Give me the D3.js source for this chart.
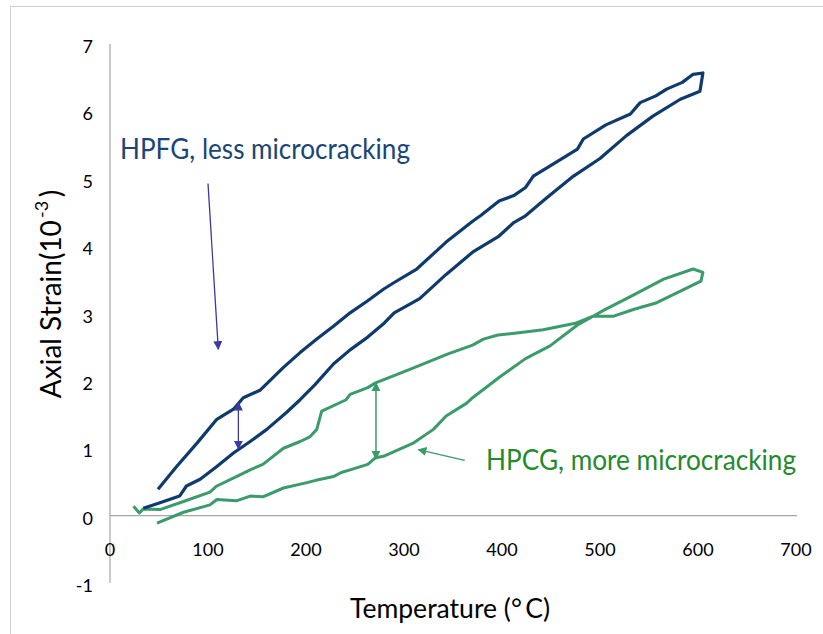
<!DOCTYPE html>
<html>
<head>
<meta charset="utf-8">
<script src="https://cdn.jsdelivr.net/npm/d3@7"></script>
<style>
  html, body { margin: 0; padding: 0; background: #fff; }
  svg { display: block; font-family: Lato, "Open Sans", sans-serif; }
</style>
</head>
<body>
<svg id="chart" width="823" height="634"></svg>
<script>
// ---- Data (Temperature °C, Axial strain 10^-3) ----
const xTicks = [0, 100, 200, 300, 400, 500, 600, 700];
const yTicks = [-1, 0, 1, 2, 3, 4, 5, 6, 7];

// HPFG loop: upper branch (left -> right)
const hpfgUpperT = [49, 68, 89, 109, 126, 136, 153, 177, 194, 211, 228, 245, 263, 279, 290, 313, 343, 370, 378, 397, 412, 424, 432, 450, 477, 483, 506, 531, 541, 557, 568, 584, 595, 605];
const hpfgUpperS = [0.39, 0.73, 1.08, 1.43, 1.58, 1.75, 1.86, 2.20, 2.42, 2.62, 2.81, 3.01, 3.19, 3.36, 3.46, 3.66, 4.06, 4.37, 4.45, 4.67, 4.75, 4.87, 5.04, 5.20, 5.44, 5.59, 5.80, 5.96, 6.13, 6.23, 6.33, 6.43, 6.55, 6.57];
// HPFG loop: lower branch (left -> right)
const hpfgLowerT = [34, 51, 71, 78, 92, 109, 126, 143, 160, 180, 194, 209, 228, 245, 263, 280, 290, 316, 343, 370, 397, 412, 424, 446, 473, 500, 527, 554, 582, 602];
const hpfgLowerS = [0.11, 0.19, 0.29, 0.44, 0.54, 0.73, 0.93, 1.10, 1.28, 1.53, 1.72, 1.94, 2.25, 2.46, 2.65, 2.86, 3.01, 3.22, 3.58, 3.91, 4.15, 4.35, 4.45, 4.72, 5.04, 5.30, 5.64, 5.93, 6.18, 6.30];

// HPCG loop: flatter branch (left -> right)
const hpcgFlatT = [24, 30, 34, 51, 75, 102, 109, 129, 143, 156, 177, 194, 204, 211, 216, 241, 245, 263, 271, 306, 345, 370, 381, 396, 415, 442, 476, 493, 514, 534, 558, 603];
const hpcgFlatS = [0.14, 0.04, 0.10, 0.09, 0.21, 0.35, 0.44, 0.58, 0.68, 0.76, 1.00, 1.10, 1.17, 1.28, 1.55, 1.72, 1.80, 1.90, 1.97, 2.17, 2.40, 2.53, 2.62, 2.68, 2.71, 2.76, 2.86, 2.96, 2.96, 3.06, 3.16, 3.48];
// HPCG loop: steeper branch (left -> right)
const hpcgSteepT = [48, 75, 102, 109, 129, 143, 156, 177, 201, 209, 228, 236, 245, 263, 271, 279, 310, 330, 343, 364, 370, 397, 424, 449, 477, 493, 504, 531, 565, 595, 605];
const hpcgSteepS = [-0.11, 0.05, 0.16, 0.24, 0.22, 0.29, 0.28, 0.41, 0.49, 0.52, 0.58, 0.64, 0.68, 0.76, 0.86, 0.88, 1.08, 1.28, 1.48, 1.67, 1.75, 2.05, 2.33, 2.52, 2.83, 2.96, 3.05, 3.25, 3.51, 3.66, 3.61];

// ---- Layout ----
const svg = d3.select("#chart");
const x = d3.scaleLinear().domain([0, 700]).range([110, 796]);
const y = d3.scaleLinear().domain([-1, 7]).range([583, 44]);

const blue = "#0f3a6c";
const green = "#3b9b6b";
const arrowPurple = "#3c3a9e";

// frame (top + left)
svg.append("line").attr("x1", 10).attr("x2", 823).attr("y1", 6.5).attr("y2", 6.5).attr("stroke", "#cfcfcf");
svg.append("line").attr("x1", 10.5).attr("x2", 10.5).attr("y1", 6).attr("y2", 634).attr("stroke", "#cfcfcf");

// axes lines
svg.append("line").attr("x1", x(0)).attr("x2", x(0)).attr("y1", y(7)).attr("y2", y(-1)).attr("stroke", "#a6a6a6").attr("stroke-width", 1.2);
svg.append("line").attr("x1", x(0)).attr("x2", x(700) + 1).attr("y1", y(0)).attr("y2", y(0)).attr("stroke", "#a6a6a6").attr("stroke-width", 1.2);

// tick labels
svg.selectAll(".yl").data(yTicks).enter().append("text")
  .attr("x", 93).attr("y", d => y(d) + 9)
  .attr("text-anchor", "end").attr("font-size", 18).attr("fill", "#000")
  .text(d => d);
svg.selectAll(".xl").data(xTicks).enter().append("text")
  .attr("x", d => x(d)).attr("y", 556)
  .attr("text-anchor", "middle").attr("font-size", 18).attr("fill", "#000")
  .text(d => d);

// axis titles
svg.append("text").attr("x", 450).attr("y", 618).attr("text-anchor", "middle")
  .attr("font-size", 27).attr("fill", "#000")
  .attr("textLength", 200).attr("lengthAdjust", "spacingAndGlyphs")
  .text("Temperature (\u00B0\u2009C)");
const yt = svg.append("text").attr("transform", "translate(61,294) rotate(-90)")
  .attr("text-anchor", "middle").attr("font-size", 28).attr("fill", "#000");
yt.append("tspan").text("Axial Strain(10");
yt.append("tspan").attr("font-size", 18).attr("dy", -13).text("\u2009-3");
yt.append("tspan").attr("dy", 13).text("\u2009)");

// curves
const line = d3.line().x(d => x(d[0])).y(d => y(d[1]));
const hpfgPath = hpfgUpperT.map((t, i) => [t, hpfgUpperS[i]])
  .concat(hpfgLowerT.map((t, i) => [t, hpfgLowerS[i]]).reverse());
const hpcgPath = hpcgFlatT.map((t, i) => [t, hpcgFlatS[i]])
  .concat(hpcgSteepT.map((t, i) => [t, hpcgSteepS[i]]).reverse());

svg.append("path").datum(hpcgPath).attr("d", line)
  .attr("fill", "none").attr("stroke", green).attr("stroke-width", 3).attr("stroke-linejoin", "round");
svg.append("path").datum(hpfgPath).attr("d", line)
  .attr("fill", "none").attr("stroke", blue).attr("stroke-width", 3.2).attr("stroke-linejoin", "round");

// arrow markers
const defs = svg.append("defs");
function marker(id, color, orient) {
  defs.append("marker").attr("id", id).attr("viewBox", "0 0 10 10")
    .attr("refX", 9).attr("refY", 5).attr("markerWidth", 9).attr("markerHeight", 9)
    .attr("markerUnits", "userSpaceOnUse").attr("orient", orient)
    .append("path").attr("d", "M0,0 L10,5 L0,10 Z").attr("fill", color);
}
marker("ap", arrowPurple, "auto-start-reverse");
marker("ag", green, "auto-start-reverse");

// annotations (data coordinates)
const annotArrows = [
  { from: [100, 4.93], to: [110.5, 2.47], color: arrowPurple, m: "ap", both: false, w: 1.3 },
  { from: [131, 1.68], to: [131, 0.99], color: arrowPurple, m: "ap", both: true, w: 1.3 },
  { from: [271.4, 1.97], to: [271.4, 0.84], color: green, m: "ag", both: true, w: 1.5 },
  { from: [362, 0.82], to: [314.6, 0.98], color: green, m: "ag", both: false, w: 1.3 }
];
annotArrows.forEach(a => {
  const l = svg.append("line")
    .attr("x1", x(a.from[0])).attr("y1", y(a.from[1]))
    .attr("x2", x(a.to[0])).attr("y2", y(a.to[1]))
    .attr("stroke", a.color).attr("stroke-width", a.w)
    .attr("marker-end", `url(#${a.m})`);
  if (a.both) l.attr("marker-start", `url(#${a.m})`);
});

svg.append("text").attr("x", x(10.2)).attr("y", y(5.29))
  .attr("font-size", 28).attr("fill", "#1a4576")
  .attr("textLength", 290).attr("lengthAdjust", "spacingAndGlyphs")
  .text("HPFG, less microcracking");
svg.append("text").attr("x", x(383.7)).attr("y", y(0.68))
  .attr("font-size", 28).attr("fill", "#25892d")
  .attr("textLength", 310).attr("lengthAdjust", "spacingAndGlyphs")
  .text("HPCG, more microcracking");
</script>
</body>
</html>
